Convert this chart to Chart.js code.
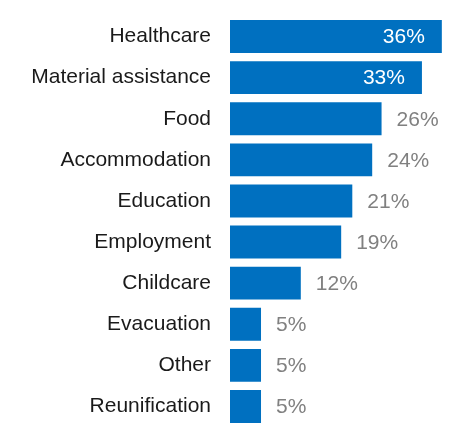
<!DOCTYPE html>
<html lang="en">
<head>
    <meta charset="UTF-8">
    <title>Support received</title>
    <style>
        body {
            margin: 0;
            padding: 0;
            background: #fff;
            overflow: hidden;
        }
        .chartBox {
            width: 455px;
            height: 427px;
        }
    </style>
</head>
<body>
    <div class="chartBox">
        <canvas id="myChart"></canvas>
    </div>

    <script src="https://cdn.jsdelivr.net/npm/chart.js/dist/chart.umd.min.js"></script>
    <script>
        // data
        const categories = ['Healthcare', 'Material assistance', 'Food', 'Accommodation', 'Education',
            'Employment', 'Childcare', 'Evacuation', 'Other', 'Reunification']
        const values = [36.2, 32.8, 25.9, 24.3, 20.9, 19.0, 12.1, 5.3, 5.3, 5.3]
        const valueLabels = ['36%', '33%', '26%', '24%', '21%', '19%', '12%', '5%', '5%', '5%']

        const labelFont = '21px "Liberation Sans", Arial, sans-serif'

        // value labels: white inside long bars, grey outside short ones
        const valueLabelPlugin = {
            id: 'valueLabels',
            afterDatasetsDraw(chart) {
                const ctx = chart.ctx
                const meta = chart.getDatasetMeta(0)
                ctx.save()
                ctx.font = labelFont
                ctx.textBaseline = 'middle'
                meta.data.forEach((bar, i) => {
                    const text = valueLabels[i]
                    if (values[i] > 30) {
                        ctx.fillStyle = '#ffffff'
                        ctx.textAlign = 'right'
                        ctx.fillText(text, bar.x - 17, bar.y + 1)
                    } else {
                        ctx.fillStyle = '#808080'
                        ctx.textAlign = 'left'
                        ctx.fillText(text, bar.x + 15, bar.y + 1)
                    }
                })
                ctx.restore()
            }
        }

        const myChart = new Chart(document.getElementById('myChart'), {
            type: 'bar',
            data: {
                labels: categories,
                datasets: [{
                    data: values,
                    backgroundColor: '#0070C0',
                    borderWidth: 0,
                    barPercentage: 0.8,
                    categoryPercentage: 1.0
                }]
            },
            options: {
                indexAxis: 'y',
                responsive: true,
                maintainAspectRatio: false,
                animation: false,
                layout: {
                    padding: { top: 16, bottom: 0, left: 0, right: 0 }
                },
                plugins: {
                    legend: { display: false },
                    tooltip: { enabled: false }
                },
                scales: {
                    x: {
                        display: false,
                        min: 0,
                        max: 38.45
                    },
                    y: {
                        grid: { display: false, drawTicks: false },
                        border: { display: false },
                        ticks: {
                            padding: 19,
                            color: '#1a1a1a',
                            font: { family: '"Liberation Sans", Arial, sans-serif', size: 21 }
                        },
                        afterFit: (scale) => {
                            scale.width = 230
                            scale.paddingTop = 0
                            scale.paddingBottom = 0
                        }
                    }
                }
            },
            plugins: [valueLabelPlugin]
        })
    </script>
</body>
</html>
